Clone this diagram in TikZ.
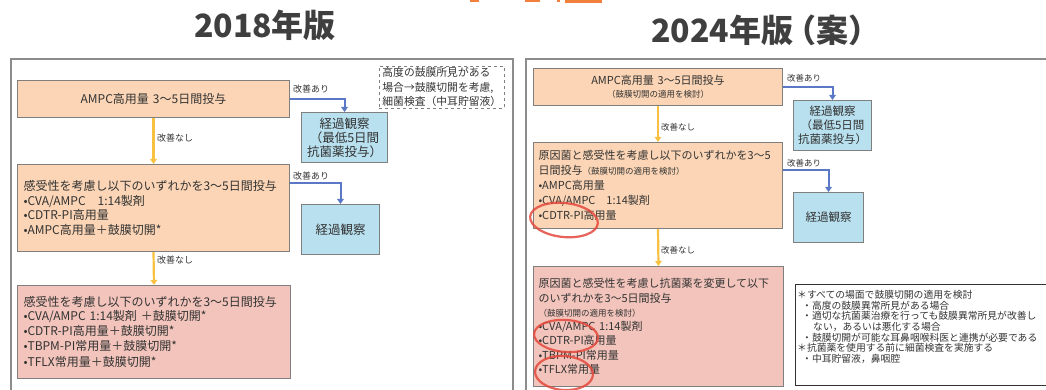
\documentclass[tikz,border=0pt]{standalone}
\usepackage{fontspec}
\setmainfont{Noto Sans CJK JP}
\usetikzlibrary{arrows.meta,calc}
\definecolor{peach}{HTML}{FBD5B5}
\definecolor{pinkbox}{HTML}{F2C4BB}
\definecolor{bluebox}{HTML}{B8E0EE}
\definecolor{boxline}{HTML}{7F7F7F}
\definecolor{txt}{HTML}{333333}
\definecolor{ttl}{HTML}{3F3F3F}
\definecolor{arrblue}{HTML}{5B78C6}
\definecolor{arryel}{HTML}{F8C142}
\definecolor{circ}{HTML}{E5483C}
\definecolor{orng}{HTML}{F0803C}
\definecolor{frame}{HTML}{8C8C8C}
\begin{document}
\begin{tikzpicture}[x=1pt,y=-1pt,
  box/.style={draw=boxline, line width=1pt, inner ysep=0pt, inner xsep=6pt, text=txt, anchor=north west},
  peachbox/.style={box, fill=peach},
  pinkb/.style={box, fill=pinkbox},
  blueb/.style={box, fill=bluebox, align=center},
  lbl/.style={inner sep=0pt, text=txt, anchor=west},
  lblL/.style={lbl, font=\fontsize{9}{10}\selectfont},
  lblR/.style={lbl, font=\fontsize{8.5}{10}\selectfont},
  ttlstyle/.style={inner sep=0pt, text=ttl, font=\fontsize{32}{36}\selectfont\bfseries},
  bluearr/.style={draw=arrblue, line width=2pt, -{Triangle[width=6.5pt,length=5pt]}},
  yelarr/.style={draw=arryel, line width=2.2pt, -{Triangle[width=6.5pt,length=5pt]}},
  framestyle/.style={draw=frame, line width=1.3pt},
  redcirc/.style={draw=circ, line width=2.2pt, opacity=0.85}
]
\useasboundingbox (0,0) rectangle (1046,390);
\clip (0,0) rectangle (1046,390);
\fill[white] (0,0) rectangle (1046,390);

% orange fragments of cropped heading
\fill[orng] (470,0) rectangle (479,2.5);
\fill[orng] (525,0) rectangle (540,2.2);
\fill[orng] (557,0) rectangle (560,2);
\fill[orng] (565,0) rectangle (602,3);

% titles
\node[ttlstyle] (T1) at (265,25) {2018年版};
\node[ttlstyle, anchor=west] (T2) at (651,30) {2024年版\kern-9pt（案）};

% panel frames
\draw[framestyle] (11,400) -- (11,59) -- (513,59) -- (513,400);
\draw[framestyle] (526,400) -- (526,59) -- (1060,59);

% ---------------- left panel ----------------
\node[peachbox, minimum width=272pt, minimum height=37pt, text width=260pt, align=center,
      font=\fontsize{12}{15}\selectfont] (A1) at (17,80) {AMPC高用量 3〜5日間投与};
\node[blueb, minimum width=86pt, minimum height=50pt, text width=80pt, inner xsep=3pt,
      font=\fontsize{12.5}{14}\selectfont] (B1) at (301,112) {経過観察\\（最低5日間\\抗菌薬投与）};
\node[box, draw=boxline, dashed, line width=0.8pt, minimum width=125pt, minimum height=42pt,
      text width=119pt, inner xsep=3pt, align=left, font=\fontsize{10.8}{14.5}\selectfont] (N1) at (379,66)
      {高度の鼓膜所見がある\\場合→鼓膜切開を考慮,\\細菌検査（中耳貯留液）};

\node[peachbox, minimum width=272pt, minimum height=87pt, text width=260pt, align=left,
      font=\fontsize{12}{14.7}\selectfont] (A2) at (17,164)
      {感受性を考慮し以下のいずれかを3〜5日間投与\\•CVA/AMPC　1:14製剤\\•CDTR-PI高用量\\•AMPC高用量＋鼓膜切開*};
\node[blueb, minimum width=78pt, minimum height=50pt, text width=72pt, inner xsep=3pt,
      font=\fontsize{12.5}{14}\selectfont] (B2) at (301,204) {経過観察};

\node[pinkb, minimum width=273pt, minimum height=93pt, text width=261pt, align=left,
      font=\fontsize{12}{14.7}\selectfont] (A3) at (17,285)
      {感受性を考慮し以下のいずれかを3〜5日間投与\\•CVA/AMPC 1:14製剤 ＋鼓膜切開*\\•CDTR-PI高用量＋鼓膜切開*\\•TBPM-PI常用量＋鼓膜切開*\\[2pt]•TFLX常用量＋鼓膜切開*};

\draw[bluearr] (A1.east) -| (B1.north);
\draw[bluearr] ([yshift=-19pt]A2.north east) -| (B2.north);
\draw[yelarr] (A1.south) -- (A2.north);
\draw[yelarr] (A2.south) -- (A3.north);
\node[lblL] (L1) at (293,89) {改善あり};
\node[lblL] (L2) at (157,138) {改善なし};
\node[lblL] (L3) at (293,176) {改善あり};
\node[lblL] (L4) at (157,260) {改善なし};

% ---------------- right panel ----------------
\node[peachbox, minimum width=249pt, minimum height=37pt, text width=237pt, align=center,
      font=\fontsize{11}{13}\selectfont] (C1) at (533,68)
      {AMPC高用量 3〜5日間投与\\{\fontsize{8.5}{10}\selectfont （鼓膜切開の適用を検討）}};
\node[blueb, minimum width=78pt, minimum height=50pt, text width=72pt, inner xsep=3pt,
      font=\fontsize{11.5}{14}\selectfont] (D1) at (793,100) {経過観察\\（最低5日間\\抗菌薬投与）};

\node[peachbox, minimum width=249pt, minimum height=86pt, text width=239pt, inner xsep=5pt, align=left,
      font=\fontsize{11}{15}\selectfont] (C2) at (533,142)
      {原因菌と感受性を考慮し以下のいずれかを3〜5\\日間投与{\fontsize{8.5}{10}\selectfont （鼓膜切開の適用を検討）}\\•AMPC高用量\\•CVA/AMPC　1:14製剤\\•CDTR-PI高用量};
\node[blueb, minimum width=70pt, minimum height=50pt, text width=64pt, inner xsep=3pt,
      font=\fontsize{11.5}{14}\selectfont] (D2) at (793,192) {経過観察};

\node[pinkb, minimum width=250pt, minimum height=120pt, text width=240pt, inner xsep=5pt, align=left,
      font=\fontsize{11}{14.3}\selectfont] (C3) at (533,266)
      {原因菌と感受性を考慮し抗菌薬を変更して以下\\のいずれかを3〜5日間投与\\{\fontsize{8.5}{10}\selectfont （鼓膜切開の適用を検討）}\\•CVA/AMPC 1:14製剤\\•CDTR-PI高用量\\•TBPM-PI常用量\\•TFLX常用量};

\draw[bluearr] ([yshift=-19pt]C1.north east) -| (D1.north);
\draw[bluearr] ([yshift=-28pt]C2.north east) -| (D2.north);
\draw[yelarr] (C1.south) -- (C2.north);
\draw[yelarr] (C2.south) -- (C3.north);
\node[lblR] (L5) at (787,78) {改善あり};
\node[lblR] (L6) at (661,127) {改善なし};
\node[lblR] (L7) at (787,163) {改善あり};
\node[lblR] (L8) at (661,250) {改善なし};

% note box
\node[box, fill=white, draw=txt, line width=0.8pt, minimum width=300pt, minimum height=101pt] (N2) at (795,284) {};
\node[inner sep=0pt, anchor=north west, align=left, text=txt, font=\fontsize{9.8}{10.7}\selectfont] (N2t)
  at ([xshift=2pt,yshift=-6pt]N2.north west)
  {＊すべての場面で鼓膜切開の適用を検討\\
   \hspace*{5pt}・高度の鼓膜異常所見がある場合\\
   \hspace*{5pt}・適切な抗菌薬治療を行っても鼓膜異常所見が改善し\\
   \hspace*{16pt}ない，あるいは悪化する場合\\
   \hspace*{5pt}・鼓膜切開が可能な耳鼻咽喉科医と連携が必要である\\
   ＊抗菌薬を使用する前に細菌検査を実施する\\
   \hspace*{5pt}・中耳貯留液，鼻咽腔};

% red hand-drawn circles
\draw[redcirc] (564,220) ellipse [x radius=34pt, y radius=17pt, rotate=-6];
\draw[redcirc] (566,336) ellipse [x radius=32pt, y radius=16pt, rotate=-4];
\draw[redcirc] (564,373) ellipse [x radius=29pt, y radius=17pt, rotate=-4];
\end{tikzpicture}
\end{document}
